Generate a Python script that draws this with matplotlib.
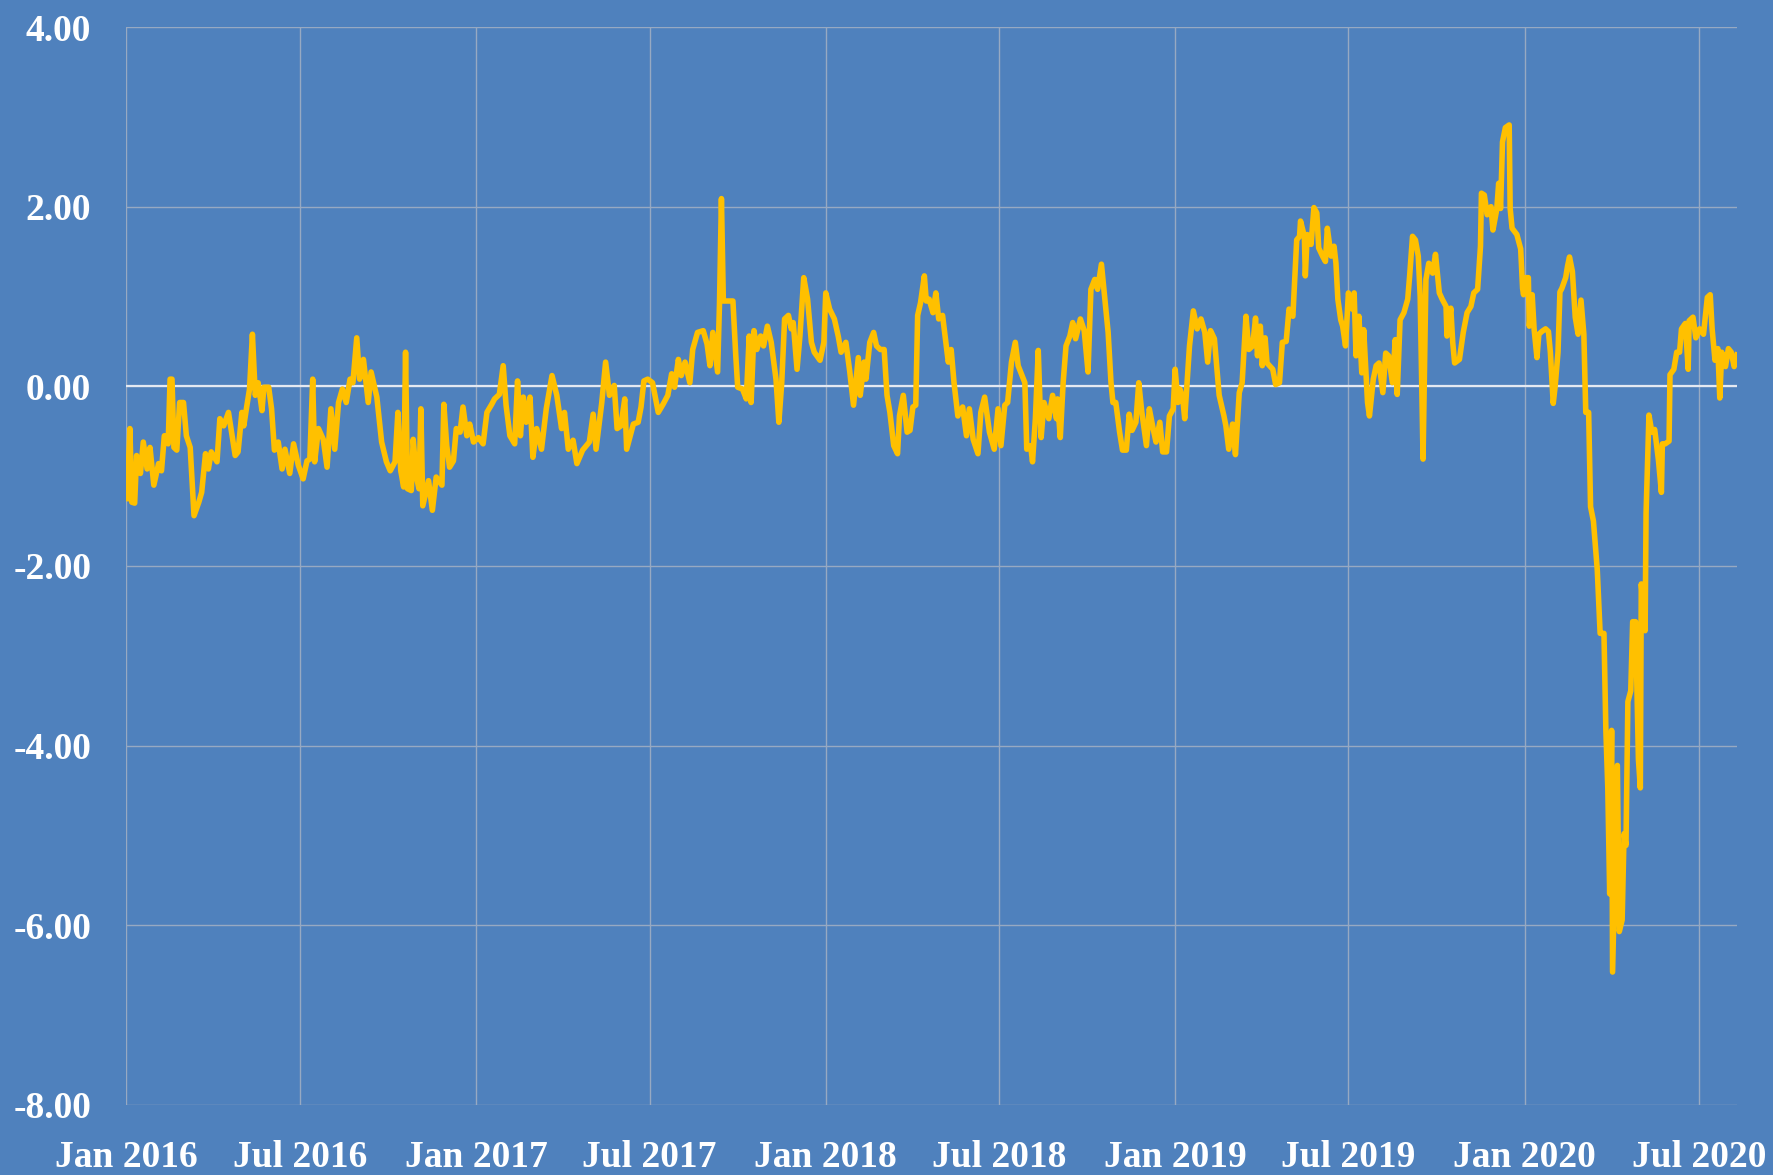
import numpy as np
import pandas as pd
import matplotlib
matplotlib.use("Agg")
import matplotlib.pyplot as plt
import matplotlib.dates as mdates

# days counted from 2016-01-01
day_offsets = [
    1, 4, 6, 9, 11, 15, 18, 22, 25, 29, 34, 37, 40, 44, 46, 48, 50, 53, 56, 60,
    63, 67, 71, 76, 79, 83, 86, 89, 95, 98, 102, 107, 114, 117, 121, 123, 126, 129, 132, 135,
    138, 142, 144, 149, 152, 155, 159, 163, 166, 171, 175, 180, 185, 189, 192, 195, 197, 201, 206, 210,
    214, 218, 222, 226, 230, 234, 237, 241, 244, 248, 253, 256, 262, 267, 272, 276, 281, 284,
    287, 290, 292, 294, 298, 300, 303, 306, 308, 310, 316, 320, 324, 330, 332, 335, 338, 342, 345, 349,
    352, 356, 359, 363, 368, 373, 377, 382, 385, 390, 394, 397, 401, 406, 409, 412, 415, 418, 422, 425,
    429, 434, 439, 445, 450, 455, 458, 462, 467, 471, 477, 484, 488, 491, 497, 501, 505, 510, 513, 517,
    521, 523, 530, 535, 538, 541, 545, 550, 556, 561, 566, 570,
    573, 577, 580, 584, 589, 592, 597, 603, 607, 610, 613, 618, 620, 622, 624, 634, 637, 639, 644, 648,
    651, 653, 656, 659, 663, 666, 670, 674, 679, 682, 685, 688, 692, 695, 697, 701, 704, 708, 712, 716,
    719, 725, 729, 731, 735, 740, 744, 747, 752, 756, 760, 765, 767, 771, 773, 777, 781, 784, 788, 792,
    795, 798, 802, 806, 808, 812, 816, 819, 822, 825, 827, 830, 834, 836, 839, 843, 846, 849, 853,
    859, 862, 865, 869, 874, 878, 881, 885, 890, 893, 897, 902, 907, 911, 914, 918, 921, 925, 929, 932,
    936, 939, 941, 945, 947, 950, 953, 956, 959, 964, 968, 972, 973, 976, 979, 982, 986, 989, 992, 997,
    1001, 1005, 1008, 1012, 1015, 1019, 1023, 1026, 1029, 1031, 1034, 1038, 1041, 1045, 1048, 1051, 1055, 1058, 1061, 1066,
    1069, 1073, 1076, 1080, 1083, 1087, 1090, 1094, 1096, 1099, 1101, 1104, 1106, 1111, 1115, 1119, 1123, 1127, 1130, 1133,
    1137, 1142, 1147,
    1149, 1152, 1156, 1159, 1163, 1166, 1170, 1173, 1177, 1180, 1182, 1185, 1187, 1190, 1192, 1198, 1201, 1205, 1208, 1212,
    1215, 1219, 1223, 1226, 1227, 1231, 1232, 1234, 1238, 1241, 1244, 1246, 1250, 1253, 1255, 1259, 1262, 1264, 1266, 1269,
    1271, 1274, 1277, 1281, 1283, 1285, 1288, 1291, 1293, 1297, 1299, 1303, 1306, 1309, 1313, 1316, 1319, 1323, 1326, 1328,
    1331, 1335, 1339, 1341, 1344, 1347, 1350, 1352, 1355, 1358, 1361, 1365, 1368, 1372, 1375, 1379, 1380, 1384, 1386, 1388,
    1393, 1397, 1401, 1405, 1408, 1412, 1415, 1416, 1419, 1422, 1426, 1428, 1432, 1434,
    1436, 1438, 1441, 1445, 1446, 1448, 1453, 1457, 1459, 1460, 1462, 1465, 1466, 1469, 1471, 1474, 1476, 1479, 1483, 1486,
    1488, 1491, 1493, 1496, 1498, 1500, 1504, 1506, 1508, 1511, 1514, 1517, 1520, 1523, 1525, 1528, 1530, 1533, 1537, 1540,
    1544, 1546, 1548, 1550, 1552, 1553, 1555, 1558, 1560, 1563, 1565, 1567, 1569, 1572, 1574, 1577, 1580, 1582, 1583, 1587,
    1588, 1591, 1594, 1597, 1601, 1604, 1605, 1608, 1612, 1613, 1617, 1620, 1623, 1625, 1629, 1632, 1633, 1637, 1640, 1644,
    1648, 1652, 1655, 1657, 1660, 1663, 1665, 1667, 1671, 1674, 1677, 1680, 1683,
]

values = [
    -1.25, -0.47, -1.29, -1.30, -0.77, -0.97, -0.62, -0.92, -0.68, -1.10, -0.86, -0.94, -0.55, -0.64, 0.08, 0.08, -0.68, -0.71, -0.18, -0.18,
    -0.55, -0.68, -1.44, -1.29, -1.18, -0.75, -0.92, -0.73, -0.84, -0.36, -0.44, -0.29, -0.77, -0.73, -0.29, -0.44, -0.23, -0.03, 0.58, -0.10,
    0.04, -0.27, -0.01, -0.01, -0.25, -0.71, -0.62, -0.92, -0.70, -0.97, -0.64, -0.88, -1.03, -0.83, -0.81, 0.08, -0.84, -0.47, -0.59, -0.90,
    -0.25, -0.70, -0.18, -0.03, -0.18, 0.08, 0.04, 0.54, 0.08, 0.30, -0.18, 0.16, -0.12, -0.62, -0.84, -0.94, -0.84, -0.29,
    -0.94, -1.12, 0.38, -1.14, -1.16, -0.59, -0.99, -1.14, -0.25, -1.33, -1.05, -1.38, -1.01, -1.10, -0.20, -0.66, -0.90, -0.83, -0.47, -0.51,
    -0.23, -0.55, -0.42, -0.62, -0.57, -0.64, -0.29, -0.20, -0.14, -0.09, 0.23, -0.21, -0.55, -0.64, 0.06, -0.55, -0.12, -0.40, -0.12, -0.79,
    -0.47, -0.70, -0.25, 0.12, -0.10, -0.47, -0.29, -0.70, -0.60, -0.86, -0.71, -0.62, -0.31, -0.70, -0.18, 0.27, -0.10, 0.01, -0.47, -0.44,
    -0.14, -0.70, -0.42, -0.40, -0.23, 0.06, 0.08, 0.04, -0.29, -0.20, -0.10, 0.14,
    -0.01, 0.30, 0.12, 0.27, 0.04, 0.41, 0.60, 0.62, 0.47, 0.23, 0.60, 0.16, 0.93, 2.09, 0.95, 0.95, 0.34, -0.01, -0.03, -0.14,
    0.56, -0.18, 0.62, 0.41, 0.56, 0.45, 0.67, 0.49, 0.08, -0.40, 0.04, 0.75, 0.79, 0.64, 0.71, 0.19, 0.56, 1.21, 0.97, 0.49,
    0.38, 0.29, 0.49, 1.04, 0.86, 0.75, 0.56, 0.38, 0.49, 0.17, -0.21, 0.32, -0.10, 0.27, 0.08, 0.49, 0.60, 0.45, 0.41, 0.41,
    -0.10, -0.29, -0.66, -0.75, -0.33, -0.10, -0.51, -0.49, -0.23, -0.21, 0.79, 0.93, 1.23, 0.95, 0.97, 0.82, 1.04, 0.75, 0.79,
    0.27, 0.41, 0.04, -0.33, -0.23, -0.55, -0.25, -0.59, -0.75, -0.29, -0.12, -0.51, -0.70, -0.25, -0.66, -0.21, -0.18, 0.27, 0.49, 0.23,
    0.12, 0.04, -0.70, -0.66, -0.84, -0.36, 0.40, -0.57, -0.18, -0.36, -0.10, -0.36, -0.14, -0.57, 0.04, 0.45, 0.56, 0.71, 0.53, 0.75,
    0.62, 0.16, 1.08, 1.19, 1.08, 1.36, 0.93, 0.60, 0.04, -0.18, -0.18, -0.51, -0.71, -0.71, -0.31, -0.49, -0.40, 0.04, -0.27, -0.66,
    -0.25, -0.47, -0.62, -0.40, -0.73, -0.73, -0.33, -0.25, 0.19, -0.18, -0.03, -0.14, -0.36, 0.45, 0.84, 0.64, 0.75, 0.60, 0.27, 0.62,
    0.53, -0.10, -0.33,
    -0.44, -0.70, -0.42, -0.76, -0.07, 0.04, 0.78, 0.41, 0.45, 0.76, 0.34, 0.67, 0.23, 0.54, 0.26, 0.19, 0.02, 0.04, 0.49, 0.50,
    0.86, 0.78, 1.63, 1.67, 1.84, 1.67, 1.23, 1.69, 1.58, 1.99, 1.93, 1.54, 1.45, 1.39, 1.76, 1.45, 1.56, 1.37, 0.97, 0.74,
    0.67, 0.45, 1.04, 0.86, 1.04, 0.34, 0.78, 0.15, 0.63, -0.18, -0.33, 0.08, 0.23, 0.26, -0.07, 0.37, 0.34, 0.04, 0.52, -0.09,
    0.74, 0.82, 0.97, 1.23, 1.67, 1.63, 1.45, 1.00, -0.81, 1.19, 1.37, 1.26, 1.47, 1.04, 0.97, 0.89, 0.56, 0.87, 0.49, 0.26,
    0.30, 0.60, 0.82, 0.89, 1.04, 1.08, 1.56, 2.15, 2.13, 1.91, 2.00, 1.74, 1.97, 2.26,
    1.98, 2.72, 2.88, 2.91, 1.98, 1.76, 1.69, 1.53, 1.09, 1.02, 1.21, 1.21, 0.67, 1.02, 0.64, 0.32, 0.58, 0.61, 0.64, 0.61,
    0.38, -0.19, 0.00, 0.38, 1.05, 1.09, 1.21, 1.34, 1.44, 1.28, 0.77, 0.58, 0.96, 0.58, -0.29, -0.29, -1.34, -1.50, -2.04, -2.75,
    -2.75, -3.83, -4.47, -5.65, -3.83, -6.52, -5.62, -4.22, -6.07, -5.94, -4.98, -5.11, -3.51, -3.39, -2.62, -2.62, -4.15, -4.47, -2.20, -2.72,
    -1.41, -0.32, -0.51, -0.48, -0.83, -1.18, -0.64, -0.64, -0.61, 0.13, 0.19, 0.38, 0.38, 0.64, 0.70, 0.19, 0.73, 0.77, 0.54, 0.64,
    0.58, 0.99, 1.02, 0.64, 0.29, 0.42, -0.13, 0.38, 0.22, 0.42, 0.38, 0.22, 0.35,
]

y_ticks = [4, 2, 0, -2, -4, -6, -8]

bg = '#4F81BD'
dates = pd.Timestamp('2016-01-01') + pd.to_timedelta(day_offsets, unit='D')

fig = plt.figure(figsize=(17.73, 11.75), dpi=100, facecolor=bg)
ax = fig.add_axes([0.0711, 0.0596, 0.9086, 0.9174])
ax.set_facecolor(bg)

# zero line sits under the series
ax.axhline(0, color='#E4E9F2', lw=1.6, zorder=2)
ax.plot(dates, values, color='#FFC000', lw=4.0, solid_joinstyle='round', zorder=3)

ax.set_ylim(-8, 4)
ax.set_yticks(y_ticks)
ax.set_yticklabels(['%.2f' % v for v in y_ticks])
ax.set_xlim(pd.Timestamp('2016-01-01'), dates[-1])
ax.xaxis.set_major_locator(mdates.MonthLocator(bymonth=[1, 7]))
ax.xaxis.set_major_formatter(mdates.DateFormatter('%b %Y'))

ax.grid(True, color='#97A9C2', lw=1.0, zorder=1)
for s in ax.spines.values():
    s.set_visible(False)
ax.tick_params(length=0, colors='white')
ax.tick_params(axis='y', pad=25)
ax.tick_params(axis='x', pad=25)
for lab in ax.get_xticklabels() + ax.get_yticklabels():
    lab.set_fontfamily('Liberation Serif')
    lab.set_fontweight('bold')
    lab.set_fontsize(27)

fig.savefig('out.png', dpi=100, facecolor=bg)
